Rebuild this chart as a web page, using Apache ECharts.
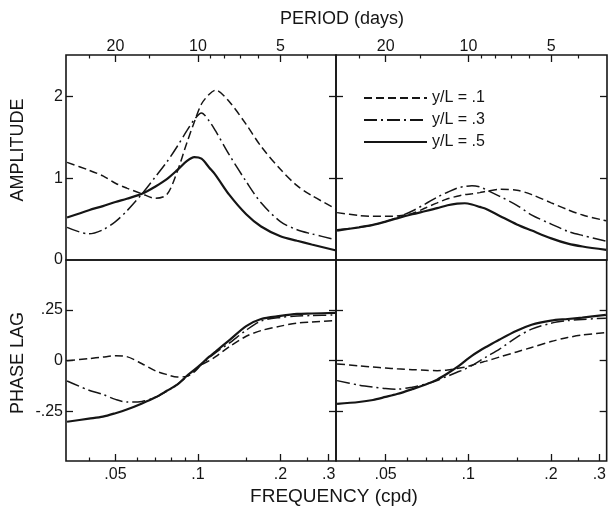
<!DOCTYPE html>
<html>
<head>
<meta charset="utf-8">
<script src="https://cdn.jsdelivr.net/npm/echarts@6/dist/echarts.min.js"></script>
<style>
  html, body { margin: 0; padding: 0; background: #fff; }
  #main { width: 609px; height: 510px; }
</style>
</head>
<body>
<div id="main"></div>
<script>
// frequency (cpd) at which curves were read
var freq = [0.0333, 0.04, 0.045, 0.05, 0.055, 0.0625, 0.07, 0.077, 0.084, 0.091, 0.097,
            0.103, 0.11, 0.116, 0.13, 0.15, 0.17, 0.2, 0.23, 0.26, 0.317];

// amplitude, left column
var ampL1 = [1.195, 1.10, 1.03, 0.94, 0.88, 0.81, 0.755, 0.80, 1.08, 1.43, 1.69, 1.91, 2.03, 2.08, 1.94, 1.66, 1.39, 1.11, 0.91, 0.79, 0.63];
var ampL3 = [0.40, 0.32, 0.37, 0.47, 0.60, 0.81, 1.02, 1.20, 1.39, 1.58, 1.72, 1.80, 1.70, 1.58, 1.29, 0.96, 0.70, 0.47, 0.37, 0.32, 0.25];
var ampL5 = [0.52, 0.61, 0.66, 0.71, 0.75, 0.81, 0.90, 0.99, 1.10, 1.21, 1.26, 1.24, 1.13, 1.04, 0.80, 0.56, 0.41, 0.29, 0.235, 0.19, 0.12];

// amplitude, right column
var ampR1 = [0.58, 0.545, 0.535, 0.535, 0.54, 0.57, 0.64, 0.70, 0.75, 0.78, 0.80, 0.81, 0.825, 0.84, 0.865, 0.855, 0.80, 0.70, 0.615, 0.55, 0.48];
var ampR3 = [0.37, 0.40, 0.43, 0.47, 0.52, 0.60, 0.69, 0.77, 0.83, 0.88, 0.90, 0.91, 0.895, 0.86, 0.78, 0.67, 0.55, 0.44, 0.35, 0.30, 0.23];
var ampR5 = [0.36, 0.40, 0.43, 0.47, 0.51, 0.56, 0.60, 0.635, 0.67, 0.69, 0.695, 0.68, 0.65, 0.625, 0.54, 0.435, 0.36, 0.265, 0.20, 0.165, 0.125];

// phase lag, left column
var lagL1 = [0.0, 0.01, 0.018, 0.024, 0.02, -0.015, -0.05, -0.068, -0.08, -0.077, -0.055, -0.02, 0.0, 0.02, 0.068, 0.12, 0.148, 0.17, 0.185, 0.19, 0.197];
var lagL3 = [-0.10, -0.145, -0.166, -0.19, -0.203, -0.20, -0.18, -0.15, -0.117, -0.08, -0.05, -0.02, 0.015, 0.04, 0.086, 0.15, 0.195, 0.213, 0.22, 0.222, 0.225];
var lagL5 = [-0.30, -0.285, -0.275, -0.258, -0.24, -0.21, -0.18, -0.148, -0.118, -0.075, -0.045, -0.015, 0.02, 0.045, 0.10, 0.17, 0.205, 0.22, 0.23, 0.232, 0.235];

// phase lag, right column
var lagR1 = [-0.016, -0.025, -0.031, -0.036, -0.040, -0.044, -0.047, -0.049, -0.046, -0.038, -0.032, -0.022, -0.01, -0.002, 0.018, 0.043, 0.065, 0.094, 0.114, 0.126, 0.138];
var lagR3 = [-0.098, -0.12, -0.13, -0.137, -0.14, -0.13, -0.115, -0.097, -0.076, -0.057, -0.042, -0.024, -0.001, 0.018, 0.057, 0.115, 0.155, 0.184, 0.197, 0.203, 0.209];
var lagR5 = [-0.212, -0.203, -0.193, -0.178, -0.164, -0.14, -0.117, -0.093, -0.063, -0.032, -0.003, 0.024, 0.049, 0.067, 0.104, 0.147, 0.177, 0.197, 0.205, 0.212, 0.225];

var seriesNames = ['y/L = .1', 'y/L = .3', 'y/L = .5'];

// tick marks
var periodMajor = [20, 10, 5];
var periodMinor = [25, 15, 9, 8, 7, 6, 4];
var freqMajor = [0.05, 0.1, 0.2, 0.3];
var freqMinor = [0.04, 0.06, 0.07, 0.08, 0.09, 0.15, 0.25];
var ampTicks = [1, 2];
var ampLabels = [0, 1, 2];
var lagTicks = [-0.25, 0, 0.25];

var FONT = '"Liberation Sans", Arial, sans-serif';
var INK = '#151515';
var X_MIN = 0.033, X_MAX = 0.319;

var lineStyles = [
  { color: INK, width: 1.5, type: [8, 4] },
  { color: INK, width: 1.5, type: [13, 4, 2, 4] },
  { color: INK, width: 2.2, type: 'solid' }
];

var panels = [
  { rect: { left: 66, top: 55, width: 270, height: 205 }, kind: 'amp', col: 0, data: [ampL1, ampL3, ampL5] },
  { rect: { left: 336, top: 55, width: 271, height: 205 }, kind: 'amp', col: 1, data: [ampR1, ampR3, ampR5] },
  { rect: { left: 66, top: 260, width: 270, height: 201 }, kind: 'lag', col: 0, data: [lagL1, lagL3, lagL5] },
  { rect: { left: 336, top: 260, width: 271, height: 201 }, kind: 'lag', col: 1, data: [lagR1, lagR3, lagR5] }
];

function inv(list) { return list.map(function (p) { return 1 / p; }); }
function dotted(v) { return String(v).replace('0.', '.'); }

var grids = [], xAxes = [], yAxes = [], series = [];

panels.forEach(function (p) {
  grids.push(Object.assign({ show: true, borderColor: INK, borderWidth: 1.6 }, p.rect));
});
panels.forEach(function (p) {
  grids.push(Object.assign({ show: false }, p.rect));
});

panels.forEach(function (p, i) {
  var top = p.kind === 'amp';
  // major ticks and labels
  xAxes.push({
    type: 'log', gridIndex: i, position: top ? 'top' : 'bottom',
    min: X_MIN, max: X_MAX,
    axisLine: { show: false, onZero: false }, splitLine: { show: false },
    axisTick: { inside: true, length: 7, lineStyle: { color: INK, width: 1.3 },
                customValues: top ? inv(periodMajor) : freqMajor },
    axisLabel: {
      customValues: top ? inv(periodMajor) : freqMajor,
      margin: top ? 0 : 6, color: INK, fontSize: 16, fontFamily: FONT,
      formatter: top ? function (v) { return String(Math.round(1 / v)); } : dotted
    }
  });
});
panels.forEach(function (p, i) {
  var top = p.kind === 'amp';
  // minor ticks on an overlaid grid
  xAxes.push({
    type: 'log', gridIndex: i + 4, position: top ? 'top' : 'bottom',
    min: X_MIN, max: X_MAX,
    axisLine: { show: false, onZero: false }, splitLine: { show: false },
    axisTick: { inside: true, length: 3.5, lineStyle: { color: INK, width: 1.2 },
                customValues: top ? inv(periodMinor) : freqMinor },
    axisLabel: { show: false }
  });
});

panels.forEach(function (p, i) {
  var amp = p.kind === 'amp';
  var range = amp ? { min: 0, max: 2.51 } : { min: -0.493, max: 0.495 };
  var ticks = amp ? ampTicks : lagTicks;
  ['left', 'right'].forEach(function (side) {
    yAxes.push(Object.assign({
      type: 'value', gridIndex: i, position: side,
      axisLine: { show: false, onZero: false }, splitLine: { show: false },
      axisTick: { inside: true, length: 7, lineStyle: { color: INK, width: 1.3 }, customValues: ticks },
      axisLabel: {
        show: side === 'left' && p.col === 0,
        customValues: amp ? ampLabels : lagTicks,
        margin: 3, color: INK, fontSize: 16, fontFamily: FONT,
        formatter: dotted
      }
    }, range));
  });
});
panels.forEach(function (p, i) {
  yAxes.push({ type: 'value', gridIndex: i + 4, show: false, min: 0, max: 1 });
});

panels.forEach(function (p, i) {
  p.data.forEach(function (vals, k) {
    series.push({
      type: 'line', name: seriesNames[k],
      xAxisIndex: i, yAxisIndex: i * 2,
      data: freq.map(function (f, j) { return [f, vals[j]]; }),
      showSymbol: false, symbol: 'none',
      smooth: 0.3,
      lineStyle: lineStyles[k], itemStyle: { color: INK },
      silent: true
    });
  });
});

var chart = echarts.init(document.getElementById('main'));
chart.setOption({
  animation: false,
  backgroundColor: '#fff',
  grid: grids,
  xAxis: xAxes,
  yAxis: yAxes,
  series: series,
  legend: {
    data: seriesNames,
    orient: 'vertical', left: 358, top: 85,
    itemWidth: 63, itemHeight: 14, itemGap: 6,
    itemStyle: { opacity: 0 },
    textStyle: { color: INK, fontSize: 16, fontFamily: FONT },
    selectedMode: false
  },
  graphic: [
    { type: 'text', x: 342, y: 19, style: { text: 'PERIOD (days)', fill: INK, font: '18px ' + FONT, textAlign: 'center', textVerticalAlign: 'middle' } },
    { type: 'text', x: 334, y: 497, style: { text: 'FREQUENCY (cpd)', fill: INK, font: '19px ' + FONT, textAlign: 'center', textVerticalAlign: 'middle' } },
    { type: 'text', x: 18.5, y: 150, rotation: Math.PI / 2, style: { text: 'AMPLITUDE', fill: INK, font: '18px ' + FONT, textAlign: 'center', textVerticalAlign: 'middle' } },
    { type: 'text', x: 18.5, y: 363, rotation: Math.PI / 2, style: { text: 'PHASE LAG', fill: INK, font: '18px ' + FONT, textAlign: 'center', textVerticalAlign: 'middle' } }
  ]
});
</script>
</body>
</html>
